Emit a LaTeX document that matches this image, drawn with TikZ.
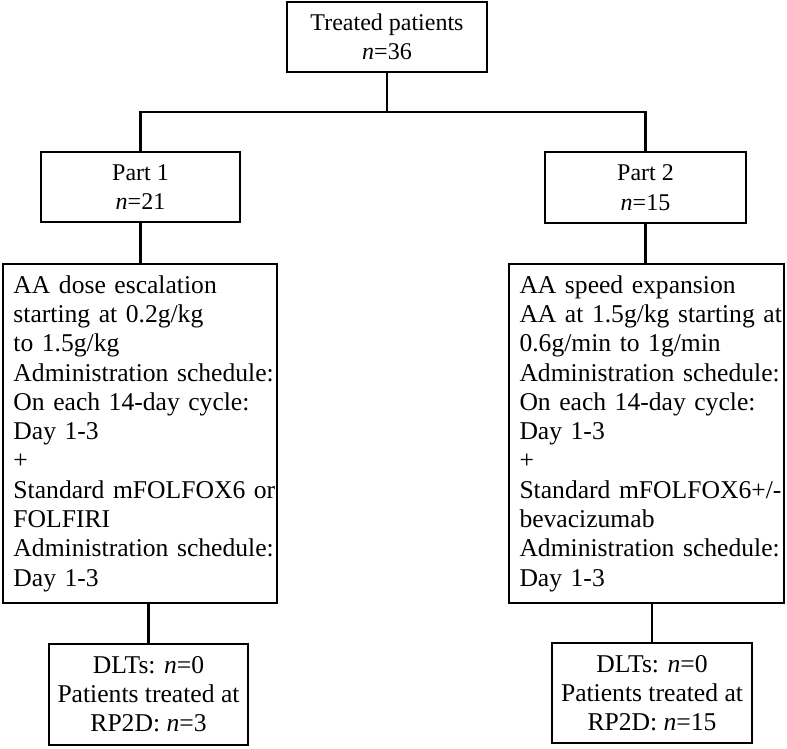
\documentclass[tikz,border=0pt]{standalone}
\usepackage{fontspec}
\setmainfont{Liberation Serif}
\tikzset{
    flowbox/.style={draw, line width=2.6pt, align=center, inner sep=0pt,
        font=\fontsize{24}{29.4}\selectfont},
    armbox/.style={flowbox, align=left, inner xsep=1.5pt, minimum height=339pt,
        font=\fontsize{25.6}{29.3}\selectfont,
        execute at begin node={\leftskip=9pt\relax}},
    endbox/.style={flowbox, minimum width=199pt, minimum height=101pt,
        font=\fontsize{25.6}{29}\selectfont},
    link/.style={line width=2.6pt}
}

\begin{document}
\begin{tikzpicture}[x=1pt, y=-1pt]
        \useasboundingbox (0,0) rectangle (787,748);

        \node [flowbox, minimum width=200pt, minimum height=70pt] (treated) at (387,37)
            {Treated patients\\\textit{n}=36};

        \node [flowbox, minimum width=199pt, minimum height=70pt] (part1) at (140.5,187)
            {Part 1\\\textit{n}=21};
        \node [flowbox, minimum width=201pt, minimum height=71pt] (part2) at (645.5,187.5)
            {Part 2\\\textit{n}=15};

        \node [armbox, text width=271pt] (dose) at (140,433.5)
            {AA dose escalation\\starting at 0.2g/kg\\to 1.5g/kg\\Administration schedule:\\On each 14-day cycle:\\Day 1-3\\+\\Standard mFOLFOX6 or\\FOLFIRI\\Administration schedule:\\Day 1-3};
        \node [armbox, text width=272pt] (speed) at (646.5,433.5)
            {AA speed expansion\\AA at 1.5g/kg starting at\\0.6g/min to 1g/min\\Administration schedule:\\On each 14-day cycle:\\Day 1-3\\+\\Standard mFOLFOX6+/-\\bevacizumab\\Administration schedule:\\Day 1-3};

        \node [endbox] (dlt1) at (148.5,694.5)
            {DLTs: \textit{n}=0\\Patients treated at\\RP2D: \textit{n}=3};
        \node [endbox, minimum width=200pt, minimum height=100pt] (dlt2) at (652,693)
            {DLTs: \textit{n}=0\\Patients treated at\\RP2D: \textit{n}=15};

        \coordinate (split) at (387,112);
        \draw [link] (treated.south) -- (split);
        \draw [link] (part1.north) |- (split) -| (part2.north);

        \draw [link] (part1.south) -- (part1.south |- dose.north);
        \draw [link] (part2.south) -- (part2.south |- speed.north);

        \draw [link] (dlt1.north |- dose.south) -- (dlt1.north);
        \draw [link] (dlt2.north |- speed.south) -- (dlt2.north);
    \end{tikzpicture}
\end{document}
